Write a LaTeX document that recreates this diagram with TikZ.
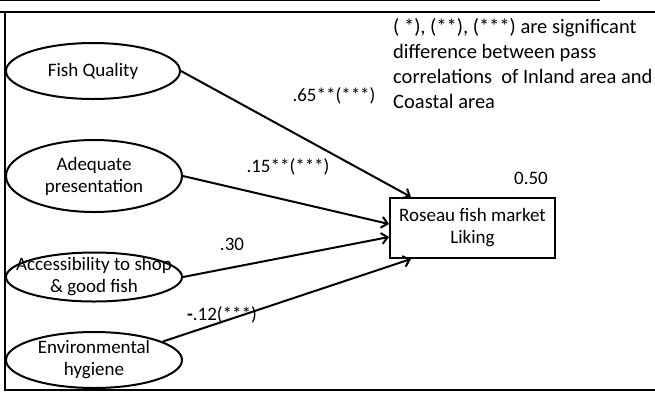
\documentclass[tikz,border=0pt]{standalone}
\usepackage{fontspec}
\setmainfont{Carlito}
\usetikzlibrary{shapes.geometric,arrows.meta}
\begin{document}
\begin{tikzpicture}[x=1pt,y=-1pt,
  ell/.style={draw,ellipse,line width=2pt,inner sep=0pt},
  lbl/.style={align=center,font=\fontsize{19}{22}\selectfont,inner sep=0pt},
  boxnode/.style={draw,rectangle,line width=2pt,minimum width=165pt,minimum height=60pt,inner sep=0pt},
  path/.style={line width=2pt,-{Straight Barb[length=6pt,width=11pt,line width=2pt]}},
  frame/.style={line width=2pt}]
\useasboundingbox (0,0) rectangle (655,392);
% frame
\draw[line width=1pt] (0,0.5) -- (600,0.5);
\draw[frame] (0,12) -- (655,12);
\draw[frame] (5,12) -- (5,390) -- (655,390);
% ellipses
\node[ell,minimum width=174pt,minimum height=56pt] (fq) at (93,71) {};
\node[lbl] at (fq) {Fish Quality};
\node[ell,minimum width=176pt,minimum height=72pt] (ap) at (94,176) {};
\node[lbl] at (ap) {Adequate\\presentation};
\node[ell,minimum width=176pt,minimum height=49pt] (ac) at (94,277) {};
\node[lbl] at (ac) {Accessibility to shop\\\& good fish};
\node[ell,minimum width=176pt,minimum height=56pt] (en) at (94,360) {};
\node[lbl] at (en) {Environmental\\hygiene};
% box
\node[boxnode] (box) at (472.5,228) {};
\node[lbl] at (box) {Roseau fish market\\Liking};
\node[lbl] (r2) at (531,178) {0.50};
% note
\node[lbl,align=left,anchor=north west,font=\fontsize{20.5}{25}\selectfont] (note) at (393,18)
  {( *), (**), (***) are significant\\difference between pass\\correlations~ of Inland area and\\Coastal area};
% arrows
\draw[path] (fq.east) -- ([xshift=22pt]box.north west);
\draw[path] (ap.east) -- ([yshift=4pt]box.west);
\draw[path] (ac.east) -- ([yshift=-9pt]box.west);
\draw[path] (en.15) -- ([xshift=22pt]box.south west);
% coefficients
\node[lbl] (c1) at (334,96) {.65**(***)};
\node[lbl] (c2) at (288,167) {.15**(***)};
\node[lbl] (c3) at (232,244) {.30};
\node[lbl] (c4) at (222,315) {\textbf{-}.12(***)};
\end{tikzpicture}
\end{document}
